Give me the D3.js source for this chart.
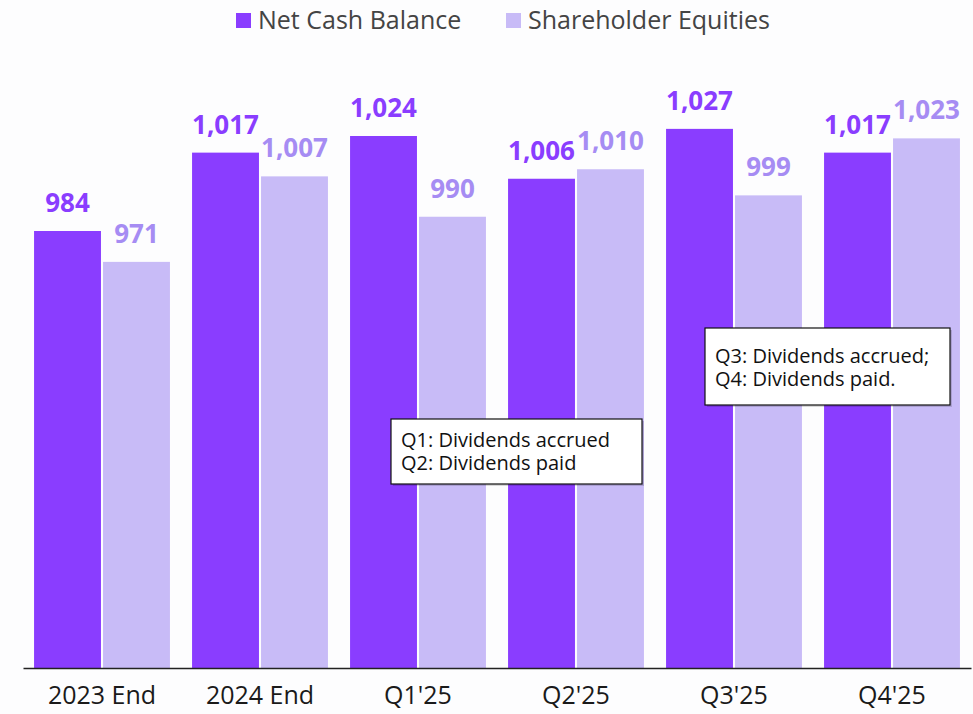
<!DOCTYPE html>
<html>
<head>
<meta charset="utf-8">
<script src="https://cdn.jsdelivr.net/npm/d3@7"></script>
<style>
  body { margin: 0; background: #fdfdfe; }
  text { font-family: "Open Sans", "Noto Sans", sans-serif; }
</style>
</head>
<body>
<div id="chart"></div>
<script>
// chart values
var periods = ["2023 End", "2024 End", "Q1'25", "Q2'25", "Q3'25", "Q4'25"];
var netCash = [984, 1017, 1024, 1006, 1027, 1017];
var equities = [971, 1007, 990, 1010, 999, 1023];
var seriesNames = ["Net Cash Balance", "Shareholder Equities"];
var notes = [
  {lines: ["Q1: Dividends accrued", "Q2: Dividends paid"]},
  {lines: ["Q3: Dividends accrued;", "Q4: Dividends paid."]}
];

var W = 973, H = 714;
var barColor = ["#8a3dff", "#c8bbf7"];
var labelColor = ["#8a3dff", "#a68cf3"];

var svg = d3.select("#chart").append("svg")
  .attr("width", W).attr("height", H);

var data = periods.map(function(p, i) {
  return {period: p, values: [netCash[i], equities[i]]};
});

var x = d3.scaleBand()
  .domain(periods)
  .range([23, 971])
  .paddingInner(0.14)
  .paddingOuter(0.07);

var xSub = d3.scaleBand()
  .domain([0, 1])
  .range([0, x.bandwidth()])
  .paddingInner(0.03);

var y = d3.scaleLinear()
  .domain([800, 1040])
  .range([668, 98]);

// bars
var groups = svg.append("g").selectAll("g")
  .data(data)
  .enter().append("g")
    .attr("transform", function(d) { return "translate(" + x(d.period) + ",0)"; });

groups.selectAll("rect")
  .data(function(d) { return d.values; })
  .enter().append("rect")
    .attr("x", function(d, i) { return xSub(i); })
    .attr("y", function(d) { return y(d); })
    .attr("width", xSub.bandwidth())
    .attr("height", function(d) { return y(800) - y(d); })
    .attr("fill", function(d, i) { return barColor[i]; });

groups.selectAll("text")
  .data(function(d) { return d.values; })
  .enter().append("text")
    .attr("x", function(d, i) { return xSub(i) + xSub.bandwidth() / 2; })
    .attr("y", function(d) { return y(d) - 19; })
    .attr("text-anchor", "middle")
    .style("font-size", "26px")
    .style("font-weight", "bold")
    .attr("fill", function(d, i) { return labelColor[i]; })
    .text(function(d) { return d3.format(",")(d); });

// x axis
var xAxis = svg.append("g")
  .attr("transform", "translate(0,668)")
  .call(d3.axisBottom(x).tickSize(0).tickPadding(18).tickSizeOuter(0));
xAxis.select(".domain").attr("stroke", "#222").attr("stroke-width", 1.3);
xAxis.selectAll("text")
  .style("font-size", "25px")
  .style("font-family", "'Open Sans', sans-serif")
  .attr("fill", "#1a1a1a");

// notes
var boxPos = [[391, 419, 251, 65], [705, 328, 245, 77]];
notes.forEach(function(n, k) {
  var b = boxPos[k];
  var g = svg.append("g").attr("transform", "translate(" + b[0] + "," + b[1] + ")");
  g.append("rect")
    .attr("x", 2).attr("y", 2)
    .attr("width", b[2]).attr("height", b[3])
    .attr("fill", "#000").attr("opacity", 0.15);
  g.append("rect")
    .attr("width", b[2]).attr("height", b[3])
    .attr("fill", "#fff").attr("stroke", "#111").attr("stroke-width", 1.2);
  g.selectAll("text")
    .data(n.lines)
    .enter().append("text")
      .attr("x", 10)
      .attr("y", function(d, i) { return (k == 0 ? 28 : 35) + i * 23; })
      .style("font-size", "20px")
      .attr("fill", "#111")
      .text(function(d) { return d; });
});

// legend
var legendX = [236, 506];
var legend = svg.selectAll(".legend")
  .data(seriesNames)
  .enter().append("g")
    .attr("class", "legend")
    .attr("transform", function(d, i) { return "translate(" + legendX[i] + ",12)"; });

legend.append("rect")
  .attr("y", 1)
  .attr("width", 15).attr("height", 15)
  .attr("fill", function(d, i) { return barColor[i]; });

legend.append("text")
  .attr("x", 22)
  .attr("y", 17)
  .style("font-size", "25px")
  .attr("fill", "#444")
  .text(function(d) { return d; });
</script>
</body>
</html>
